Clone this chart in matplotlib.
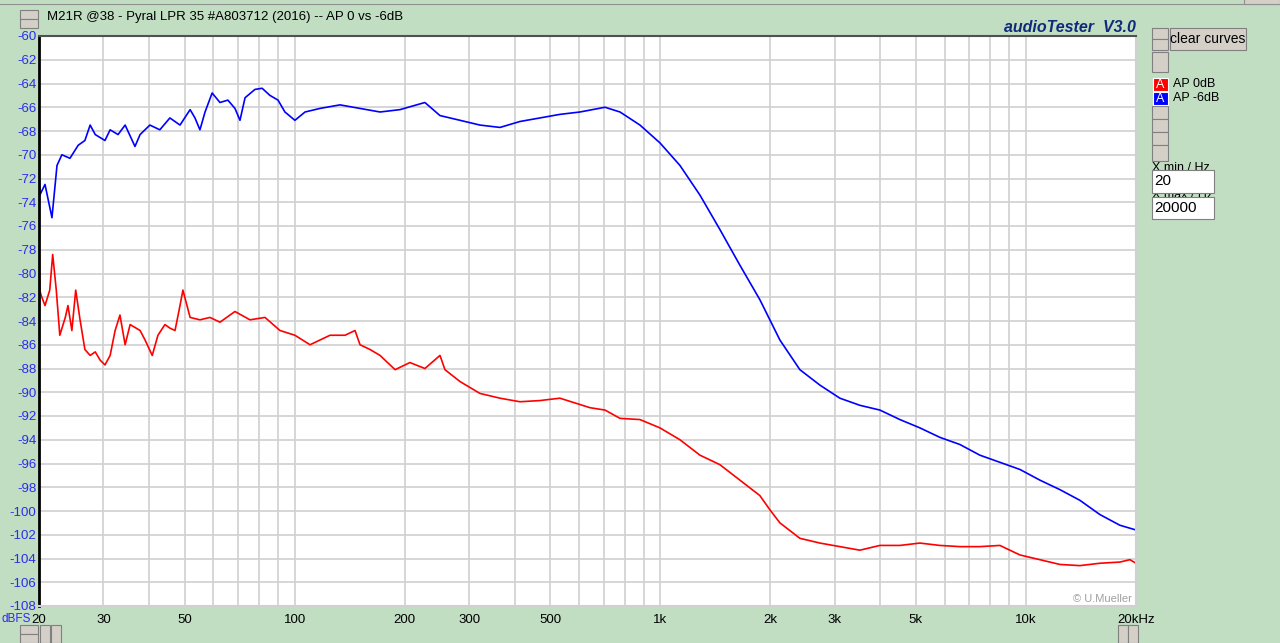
import matplotlib.pyplot as plt
from matplotlib.patches import Rectangle

plt.rcParams['font.family'] = ['Liberation Sans', 'DejaVu Sans']

# blue curve: AP -6dB
blue_f = [20, 20.1, 20.77, 21.7, 22.4, 23.1, 24.3, 25.6, 26.7, 27.6, 28.5, 30.3, 31.3, 32.9, 34.4,
          36.6, 37.8, 40.2, 42.8, 45.6, 48.6, 51.8, 53.4, 55.1, 56.9, 59.5, 62.5, 65.7, 68.7, 70.9,
          73.2, 77.9, 81.5, 85.6, 90.1, 94.1, 100.2, 106.8, 117.3, 133.1, 151, 171.3, 194.2, 227.2,
          249.8, 283.4, 321.3, 364.5, 413.3, 468.8, 531.6, 603, 706.1, 776.2, 880, 998, 1132, 1284,
          1456, 1651, 1872, 2124, 2409, 2733, 3099, 3515, 3987, 4522, 5129, 5818, 6598, 7484, 8489,
          9626, 10918, 12384, 14047, 15932, 18072, 20000]
blue_db = [-71.2, -73.4, -72.5, -75.3, -70.9, -70.0, -70.3, -69.2, -68.8, -67.5, -68.3, -68.8, -67.9,
           -68.3, -67.5, -69.3, -68.3, -67.5, -67.9, -66.9, -67.5, -66.2, -66.9, -67.9, -66.4, -64.8,
           -65.6, -65.4, -66.1, -67.1, -65.2, -64.5, -64.4, -65.0, -65.4, -66.4, -67.1, -66.4, -66.1,
           -65.8, -66.1, -66.4, -66.2, -65.6, -66.7, -67.1, -67.5, -67.7, -67.2, -66.9, -66.6, -66.4,
           -66.0, -66.4, -67.5, -69.0, -70.9, -73.4, -76.3, -79.3, -82.2, -85.6, -88.1, -89.4, -90.5,
           -91.1, -91.5, -92.3, -93.0, -93.8, -94.4, -95.3, -95.9, -96.5, -97.4, -98.2, -99.1, -100.3,
           -101.2, -101.6]

# red curve: AP 0dB
red_f = [20, 20.1, 20.25, 20.77, 21.4, 21.8, 22.3, 22.8, 23.6, 24.0, 24.6, 25.2, 25.9, 26.7, 27.6,
         28.5, 29.4, 30.3, 31.3, 32.3, 33.3, 34.4, 35.5, 37.8, 39.0, 40.8, 42.3, 44.2, 45.6, 47.1,
         48.6, 49.5, 51.8, 55.1, 58.7, 62.5, 68.7, 75.5, 83.0, 91.2, 100.2, 110.2, 125, 137.4, 146.3,
         151, 160.8, 171.3, 188.3, 206.7, 227.2, 249.8, 257.8, 283.4, 321.3, 364.5, 413.3, 468.8,
         531.6, 584.4, 642.3, 706.1, 776.2, 880, 998, 1132, 1284, 1456, 1651, 1872, 1995, 2124, 2409,
         2733, 3099, 3515, 3987, 4522, 5129, 5818, 6598, 7484, 8489, 9626, 10918, 12384, 14047,
         15932, 18072, 19246, 20000]
red_db = [-78.0, -81.4, -81.8, -82.7, -81.4, -78.4, -81.4, -85.2, -83.7, -82.7, -84.8, -81.4, -83.9,
          -86.4, -86.9, -86.6, -87.3, -87.7, -86.9, -84.8, -83.5, -86.0, -84.3, -84.8, -85.6, -86.9,
          -85.2, -84.3, -84.6, -84.8, -82.7, -81.4, -83.7, -83.9, -83.7, -84.1, -83.2, -83.9, -83.7,
          -84.8, -85.2, -86.0, -85.2, -85.2, -84.8, -86.0, -86.4, -86.9, -88.1, -87.5, -88.0, -86.9,
          -88.1, -89.1, -90.1, -90.5, -90.8, -90.7, -90.5, -90.9, -91.3, -91.5, -92.2, -92.3, -93.0,
          -94.0, -95.3, -96.1, -97.4, -98.7, -99.9, -101.0, -102.3, -102.7, -103.0, -103.3, -102.9,
          -102.9, -102.7, -102.9, -103.0, -103.0, -102.9, -103.7, -104.1, -104.5, -104.6, -104.4,
          -104.3, -104.1, -104.4]

x_ticks = [20, 30, 50, 100, 200, 300, 500, 1000, 2000, 3000, 5000, 10000, 20000]
x_labels = ['20', '30', '50', '100', '200', '300', '500', '1k', '2k', '3k', '5k', '10k', '20kHz']
y_ticks = list(range(-108, -59, 2))

bg = '#C1DEC3'
btn = '#D4D0C8'
fig = plt.figure(figsize=(12.8, 6.43), dpi=100, facecolor=bg)
ax = fig.add_axes([39 / 1280, 1 - 606 / 643, (1136 - 39) / 1280, 570 / 643])
ax.set_facecolor('white')

ax.plot(red_f, red_db, color='#FF0000', lw=1.2)
ax.plot(blue_f, blue_db, color='#0000FF', lw=1.2)

ax.set_xscale('log')
ax.set_xlim(20, 20000)
ax.set_ylim(-108, -60)
ax.set_xticks(x_ticks)
ax.set_xticklabels(x_labels)
ax.set_xticks([f for d in [10, 100, 1000] for f in range(2 * d, 10 * d + 1, d)] + [20000], minor=True)
ax.xaxis.set_minor_formatter(plt.NullFormatter())
ax.set_yticks(y_ticks)
ax.set_yticklabels([str(v) for v in y_ticks])
ax.grid(True, which='both', axis='x', color='#D0D0D0', lw=1.2)
ax.grid(True, which='major', axis='y', color='#D0D0D0', lw=1.2)
ax.set_axisbelow(True)
ax.tick_params(which='both', length=0)
ax.tick_params(axis='y', labelcolor='#2B2BF0', labelsize=9.5, pad=2)
ax.tick_params(axis='x', labelsize=9.5, pad=6)
for s in ['right', 'bottom']:
    ax.spines[s].set_color('#D0D0D0')
    ax.spines[s].set_linewidth(1.5)
ax.spines['top'].set_color('#505050')
ax.spines['top'].set_linewidth(1.5)
ax.spines['left'].set_color('black')
ax.spines['left'].set_linewidth(2)
ax.text(0.996, 0.004, '© U.Mueller', transform=ax.transAxes, ha='right', va='bottom',
        fontsize=8, color='#A0A0A0')

W, H = 1280, 643


def rect(x, y, w, h, fc=btn, ec='#808080', z=1):
    fig.patches.append(Rectangle((x / W, 1 - (y + h) / H), w / W, h / H, transform=fig.transFigure,
                                 facecolor=fc, edgecolor=ec, lw=0.8, zorder=z))


def txt(x, y, s, **kw):
    fig.text(x / W, 1 - y / H, s, **kw)


# top bar line
rect(-2, -10, 1284, 14, fc=bg, ec='#909090')
rect(1244, -10, 36, 14, fc=btn, ec='#909090')
# title and brand
rect(20, 10, 18, 9)
rect(20, 19, 18, 9)
txt(47, 17, 'M21R @38 - Pyral LPR 35 #A803712 (2016) -- AP 0 vs -6dB', fontsize=9.5, va='center')
txt(1136, 28, 'audioTester  V3.0', fontsize=11.5, color='#102A7A', ha='right', va='center',
    fontweight='bold', style='italic')
txt(2, 619, 'dBFS', fontsize=8.5, color='#2B2BF0', ha='left', va='center')

# right panel
rect(1152, 28, 16, 11)
rect(1152, 39, 16, 11)
rect(1170, 28, 76, 22)
txt(1208, 39, 'clear curves', fontsize=10, ha='center', va='center')
rect(1152, 52, 16, 20)
for yy in [106, 119, 132, 145]:
    rect(1152, yy, 16, 13 if yy < 145 else 16)
rect(1153, 78, 15, 13, fc='#FF0000', ec='white')
rect(1153, 92, 15, 13, fc='#0000FF', ec='white')
txt(1160.5, 85, 'A', fontsize=9, color='white', ha='center', va='center')
txt(1160.5, 99, 'A', fontsize=9, color='white', ha='center', va='center')
txt(1173, 84, 'AP 0dB', fontsize=9, va='center')
txt(1173, 98, 'AP -6dB', fontsize=9, va='center')
txt(1152, 168, 'X min / Hz', fontsize=9, va='center', zorder=0.5)
txt(1152, 195, 'X max / Hz', fontsize=9, va='center', zorder=0.5)
rect(1152, 170, 62, 23, fc='white', ec='#808080', z=2)
rect(1152, 197, 62, 22, fc='white', ec='#808080', z=2)
txt(1154, 181, '20', fontsize=11, va='center', zorder=3)
txt(1154, 208, '20000', fontsize=11, va='center', zorder=3)

# bottom scroll buttons
rect(20, 625, 18, 9)
rect(20, 634, 18, 9)
rect(40, 625, 10, 18)
rect(51, 625, 10, 18)
rect(1118, 625, 10, 18)
rect(1128, 625, 10, 18)

fig.savefig('out.png', dpi=100, facecolor=bg)
